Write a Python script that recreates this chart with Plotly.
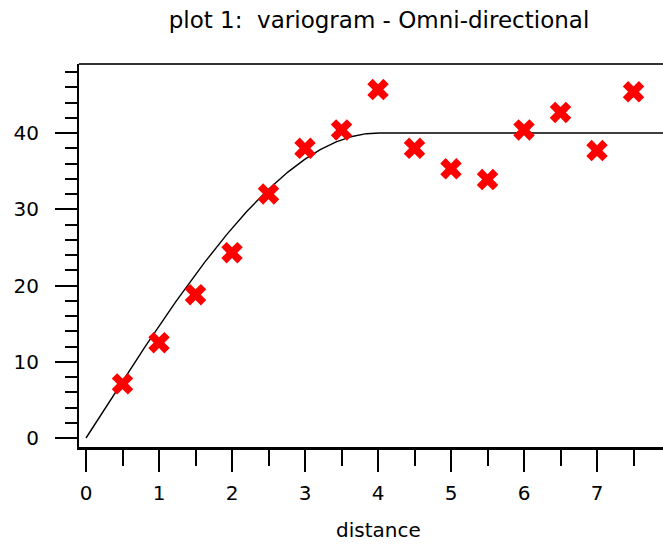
import numpy as np
import plotly.graph_objects as go

# Experimental variogram (lag distance vs semivariance)
lag_distance = [0.5, 1.0, 1.5, 2.0, 2.5, 3.0, 3.5, 4.0, 4.5, 5.0, 5.5, 6.0, 6.5, 7.0, 7.5]
semivariance = [7.1, 12.5, 18.8, 24.3, 32.0, 38.0, 40.4, 45.7, 38.0, 35.3, 33.9, 40.4, 42.7, 37.7, 45.4]

# Fitted spherical model parameters
model_nugget = 0.0
model_sill = 40.0
model_range = 4.0

x_ticks = [0, 1, 2, 3, 4, 5, 6, 7]
y_ticks = [0, 10, 20, 30, 40]

X_MIN, X_MAX = -0.096, 7.904
Y_MIN, Y_MAX = -1.18, 49.05


def spherical(h):
    h = np.asarray(h, dtype=float)
    r = np.clip(h / model_range, 0, 1)
    return model_nugget + (model_sill - model_nugget) * (1.5 * r - 0.5 * r ** 3)


h_model = np.linspace(0, X_MAX, 400)
g_model = spherical(h_model)

font_family = "DejaVu Sans"

fig = go.Figure()
fig.add_trace(go.Scatter(
    x=h_model, y=g_model, mode="lines",
    line=dict(color="black", width=1.4),
    hoverinfo="skip", showlegend=False,
))
fig.add_trace(go.Scatter(
    x=lag_distance, y=semivariance, mode="markers",
    marker=dict(symbol="x", size=19, color="#ff0000", line=dict(width=0)),
    showlegend=False,
))

fig.update_layout(
    width=663, height=545,
    margin=dict(l=79, r=0, t=64, b=98),
    paper_bgcolor="white", plot_bgcolor="white",
    font=dict(family=font_family, color="black", size=20),
    title=dict(
        text="plot 1:  variogram - Omni-directional",
        font=dict(family=font_family, size=23, color="black"),
        xref="container", yref="container",
        x=379 / 663, y=1 - 20 / 545, xanchor="center", yanchor="middle",
    ),
    annotations=[dict(
        text="distance", xref="paper", yref="paper",
        x=(378 - 79) / 584, y=-(530 - 447) / 383,
        xanchor="center", yanchor="middle", showarrow=False,
        font=dict(family=font_family, size=20, color="black"),
    )],
)

fig.update_xaxes(
    range=[X_MIN, X_MAX], showgrid=False, zeroline=False,
    showline=True, linecolor="black", linewidth=3, mirror=False,
    tickmode="array", tickvals=x_ticks, ticktext=[str(v) for v in x_ticks],
    ticks="outside", ticklen=22, tickwidth=2, tickcolor="black",
    ticklabelstandoff=4,
    minor=dict(dtick=0.5, tick0=0, ticks="outside", ticklen=16, tickwidth=2, tickcolor="black"),
    tickfont=dict(size=20, family=font_family),
)
fig.update_yaxes(
    range=[Y_MIN, Y_MAX], showgrid=False, zeroline=False,
    showline=True, linecolor="black", linewidth=2, mirror=False,
    tickmode="array", tickvals=y_ticks, ticktext=[str(v) for v in y_ticks],
    ticks="outside", ticklen=22, tickwidth=2, tickcolor="black",
    ticklabelstandoff=12,
    minor=dict(dtick=2, tick0=0, ticks="outside", ticklen=12, tickwidth=2, tickcolor="black"),
    tickfont=dict(size=20, family=font_family),
)

# top border of the plotting box
fig.add_shape(type="line", xref="paper", yref="paper", x0=0, x1=1, y0=1, y1=1,
              line=dict(color="#333333", width=2))

fig.write_html("out.html")
